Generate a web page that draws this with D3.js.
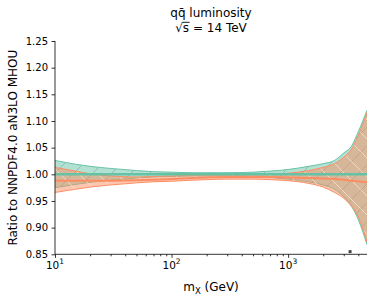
<!DOCTYPE html>
<html>
<head>
<meta charset="utf-8">
<script src="https://cdn.jsdelivr.net/npm/d3@7"></script>
<style>
  body { margin: 0; background: #fff; }
  svg text { font-family: "DejaVu Sans", sans-serif; fill: #000; }
</style>
</head>
<body>
<svg id="chart" width="374" height="297"></svg>
<script>
// invariant mass points (GeV)
var masses = [10, 15, 20, 30, 50, 70, 100, 150, 200, 300, 500, 700, 1000, 1500, 2000, 2500, 3000, 3500, 4000, 4750];

// NNPDF4.0 aN3LO MHOU (reference) band
var greenUp  = [1.026, 1.019, 1.015, 1.011, 1.007, 1.005, 1.004, 1.003, 1.003, 1.003, 1.004, 1.006, 1.009, 1.015, 1.020, 1.026, 1.040, 1.053, 1.080, 1.120];
var greenLow = [0.975, 0.981, 0.985, 0.989, 0.993, 0.995, 0.996, 0.997, 0.997, 0.997, 0.996, 0.994, 0.991, 0.986, 0.980, 0.972, 0.958, 0.940, 0.915, 0.868];
var greenMid = [1, 1, 1, 1, 1, 1, 1, 1, 1, 1, 1, 1, 1, 1, 1, 1, 1, 1, 1, 1];

// comparison band
var orangeUp  = [1.013, 1.006, 1.001, 0.997, 0.995, 0.996, 0.997, 0.998, 0.999, 0.999, 0.999, 1.000, 1.002, 1.007, 1.013, 1.020, 1.032, 1.047, 1.073, 1.116];
var orangeMid = [0.988, 0.988, 0.988, 0.988, 0.989, 0.990, 0.991, 0.993, 0.994, 0.995, 0.995, 0.995, 0.994, 0.993, 0.992, 0.991, 0.990, 0.988, 0.987, 0.985];
var orangeLow = [0.966, 0.972, 0.976, 0.980, 0.984, 0.986, 0.987, 0.989, 0.990, 0.991, 0.991, 0.990, 0.988, 0.983, 0.976, 0.966, 0.955, 0.940, 0.920, 0.873];

var markerPts = [[3400, 0.855]];

var yTicks = [0.85, 0.90, 0.95, 1.00, 1.05, 1.10, 1.15, 1.20, 1.25];
var xTicks = [10, 100, 1000];
var xExps = ['1', '2', '3'];
var xMinor = [20, 30, 40, 50, 60, 70, 80, 90, 200, 300, 400, 500, 600, 700, 800, 900, 2000, 3000, 4000];

var green = '#66c2a5', orange = '#fc8d62';

var svg = d3.select('#chart');
var pLeft = 55, pRight = 367, pTop = 41, pBottom = 254.3;

var x = d3.scaleLog().domain([10, 4750]).range([pLeft, pRight]);
var y = d3.scaleLinear().domain([0.85, 1.25]).range([pBottom, pTop]);

var defs = svg.append('defs');
defs.append('clipPath').attr('id', 'plotclip')
    .append('rect')
    .attr('x', pLeft).attr('y', pTop)
    .attr('width', pRight - pLeft).attr('height', pBottom - pTop);

function hatch(id, dir, color, op) {
   var s = 19;
   var d = dir === '/'
      ? 'M0,' + s + 'L' + s + ',0M-3,3L3,-3M' + (s - 3) + ',' + (s + 3) + 'L' + (s + 3) + ',' + (s - 3)
      : 'M0,0L' + s + ',' + s + 'M-3,' + (s - 3) + 'L3,' + (s + 3) + 'M' + (s - 3) + ',-3L' + (s + 3) + ',3';
   defs.append('pattern')
       .attr('id', id)
       .attr('patternUnits', 'userSpaceOnUse')
       .attr('width', s).attr('height', s)
       .append('path')
       .attr('d', d)
       .style('stroke', color)
       .style('stroke-width', 0.8)
       .style('stroke-opacity', op)
       .style('fill', 'none');
}
hatch('hGreen', '/', '#4a8c78', 0.5);
hatch('hOrange', '\\', '#ffe2d6', 0.9);

var plot = svg.append('g').attr('clip-path', 'url(#plotclip)');

function drawLine(vals, color, w) {
   var line = d3.line()
      .x(function(d, i) { return x(masses[i]); })
      .y(function(d) { return y(d); })
      .curve(d3.curveMonotoneX);
   plot.append('path').datum(vals).attr('d', line)
       .style('fill', 'none').style('stroke', color).style('stroke-width', w);
}

function drawBand(up, low, color, pat) {
   var pts = masses.map(function(m, i) { return [m, low[i], up[i]]; });
   var area = d3.area()
      .x(function(d) { return x(d[0]); })
      .y0(function(d) { return y(d[1]); })
      .y1(function(d) { return y(d[2]); })
      .curve(d3.curveMonotoneX);
   plot.append('path').datum(pts).attr('d', area)
       .style('fill', color).style('fill-opacity', 0.5);
   plot.append('path').datum(pts).attr('d', area)
       .style('fill', 'url(#' + pat + ')');
   drawLine(up, color, 1);
   drawLine(low, color, 1);
}

drawBand(greenUp, greenLow, green, 'hGreen');
drawBand(orangeUp, orangeLow, orange, 'hOrange');
drawLine(orangeMid, orange, 2);
drawLine(greenMid, green, 2.5);

svg.selectAll('.mk')
   .data(markerPts)
   .enter()
   .append('rect')
   .attr('x', function(d) { return x(d[0]) - 1.5; })
   .attr('y', function(d) { return y(d[1]) - 1.5; })
   .attr('width', 3).attr('height', 3)
   .style('fill', '#444');

// axes
var yAxis = svg.append('g').attr('transform', 'translate(' + pLeft + ',0)')
   .call(d3.axisLeft(y).tickValues(yTicks).tickFormat(d3.format('.2f')).tickSize(3.5).tickPadding(3.5));
yAxis.select('.domain').attr('d', 'M0,' + pTop + 'V' + pBottom);
var xAxis = svg.append('g').attr('transform', 'translate(0,' + pBottom + ')')
   .call(d3.axisBottom(x).tickValues(xTicks).tickFormat('').tickSize(3.5));
xAxis.select('.domain').attr('d', 'M' + pLeft + ',0H' + pRight);
svg.append('g').attr('transform', 'translate(0,' + pBottom + ')')
   .call(d3.axisBottom(x).tickValues(xMinor).tickFormat('').tickSize(2))
   .select('.domain').remove();

svg.selectAll('.domain, .tick line').style('stroke', '#000').style('stroke-width', 0.8);
yAxis.selectAll('text').style('font-size', '10px').style('font-family', '"DejaVu Sans"').style('fill', '#000');

var xl = svg.selectAll('.xlab').data(xTicks).enter().append('text')
   .attr('x', function(d) { return x(d); })
   .attr('y', 268.5)
   .attr('text-anchor', 'middle')
   .style('font-size', '10.5px');
xl.append('tspan').text('10');
xl.append('tspan').attr('dy', -4.5).style('font-size', '7.5px').text(function(d, i) { return xExps[i]; });

// axis labels
var xt = svg.append('text').attr('x', (pLeft + pRight) / 2).attr('y', 291)
   .attr('text-anchor', 'middle').style('font-size', '12px');
xt.append('tspan').text('m');
xt.append('tspan').attr('dy', 2.5).style('font-size', '8.5px').text('X');
xt.append('tspan').attr('dy', -2.5).text(' (GeV)');

svg.append('text')
   .attr('transform', 'translate(17,' + ((pTop + pBottom) / 2) + ') rotate(-90)')
   .attr('text-anchor', 'middle')
   .style('font-size', '12px')
   .text('Ratio to NNPDF4.0 aN3LO MHOU');

// title
var cx = (pLeft + pRight) / 2;
svg.append('text').attr('x', cx).attr('y', 16.5).attr('text-anchor', 'middle')
   .style('font-size', '12px').text('q\u0071\u0304 luminosity');
var t2 = svg.append('text').attr('x', cx).attr('y', 32).attr('text-anchor', 'middle')
   .style('font-size', '12px').text('\u221As = 14 TeV');
var node = t2.node();
var sx0 = node.getStartPositionOfChar(1).x, sx1 = node.getEndPositionOfChar(1).x;
svg.append('line')
   .attr('x1', sx0 - 0.5).attr('x2', sx1 + 0.5)
   .attr('y1', 22.3).attr('y2', 22.3)
   .style('stroke', '#000').style('stroke-width', 0.9);
</script>
</body>
</html>
